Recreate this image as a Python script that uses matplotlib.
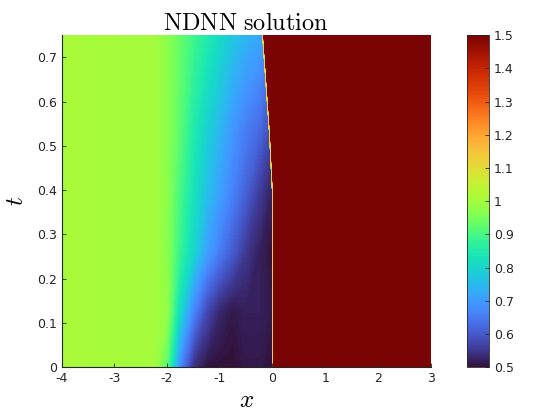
import numpy as np
import matplotlib
matplotlib.use("Agg")
import matplotlib.pyplot as plt
from matplotlib.ticker import FormatStrFormatter

plt.rcParams['mathtext.fontset'] = 'cm'
plt.rcParams['axes.unicode_minus'] = False

t_rows = [0.0, 0.13, 0.26, 0.40, 0.53, 0.75]
x_knots = [-4.0, -3.0, -2.25, -2.0, -1.75, -1.5, -1.25, -1.0, -0.75, -0.5, -0.25]
u_left = [
    [1.01, 1.005, 1.0, 0.92, 0.67, 0.54, 0.505, 0.50, 0.50, 0.51, 0.51],
    [1.01, 1.005, 1.0, 0.98, 0.81, 0.67, 0.58, 0.53, 0.51, 0.52, 0.52],
    [1.01, 1.005, 1.0, 0.97, 0.88, 0.80, 0.71, 0.65, 0.60, 0.55, 0.52],
    [1.01, 1.005, 1.0, 0.97, 0.90, 0.83, 0.76, 0.71, 0.66, 0.61, 0.56],
    [1.01, 1.005, 1.0, 0.97, 0.92, 0.85, 0.79, 0.74, 0.69, 0.65, 0.62],
    [1.01, 1.005, 1.0, 0.97, 0.93, 0.89, 0.85, 0.81, 0.77, 0.74, 0.72],
]
u_before_shock = [0.50, 0.51, 0.50, 0.52, 0.58, 0.70]
shock_x = [-0.005, -0.005, -0.005, -0.005, -0.06, -0.19]
u_shock_line = 1.12
u_right = 1.5
x_right = 3.0

# build curvilinear mesh (shock columns move with time)
X, T, U = [], [], []
for i, t in enumerate(t_rows):
    xs = shock_x[i]
    X.append(x_knots + [xs - 0.004, xs, xs + 0.02, xs + 0.024, x_right])
    T.append([t] * (len(x_knots) + 5))
    U.append(u_left[i] + [u_before_shock[i], u_shock_line, u_shock_line,
                          u_right, u_right])
X = np.array(X)
T = np.array(T)
U = np.array(U)

fig = plt.figure(figsize=(5.6, 4.2), dpi=100)
ax = fig.add_axes([0.110, 0.126, 0.659, 0.790])
cax = fig.add_axes([0.834, 0.126, 0.039, 0.790])

levels = np.linspace(0.5, 1.5, 257)
cs = ax.contourf(X, T, U, levels=levels, cmap='turbo', vmin=0.5, vmax=1.5,
                 extend='both', antialiased=False)
ax.set_xlim(-4, 3)
ax.set_ylim(0, 0.75)
ax.set_xticks(np.arange(-4, 4, 1))
ax.set_yticks(np.arange(0, 0.71, 0.1))
ax.xaxis.set_major_formatter(FormatStrFormatter('%g'))
ax.yaxis.set_major_formatter(FormatStrFormatter('%g'))
ax.tick_params(direction='in', length=3, width=0.6, labelsize=9,
               colors='#262626', labelcolor='#262626')
ax.spines['top'].set_visible(False)
ax.spines['right'].set_visible(False)
for s in ['left', 'bottom']:
    ax.spines[s].set_linewidth(0.8)
    ax.spines[s].set_color('#262626')
    ax.spines[s].set_zorder(5)

ax.set_title(r'$\mathrm{NDNN\ solution}$', fontsize=17.5, pad=4)
ax.set_xlabel(r'$x$', fontsize=18, labelpad=2)
ax.set_ylabel(r'$t$', fontsize=18, labelpad=6)

sm = plt.cm.ScalarMappable(cmap='turbo', norm=plt.Normalize(0.5, 1.5))
cb = fig.colorbar(sm, cax=cax, ticks=np.arange(0.5, 1.51, 0.1))
cb.ax.yaxis.set_major_formatter(FormatStrFormatter('%g'))
cb.ax.tick_params(direction='in', length=3, width=0.6, labelsize=9,
                  colors='#262626', labelcolor='#262626')
cb.outline.set_linewidth(0.6)
cb.outline.set_edgecolor('#262626')

fig.savefig('out.png', dpi=100)
